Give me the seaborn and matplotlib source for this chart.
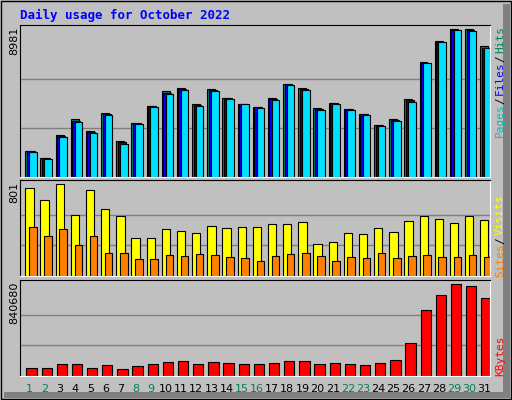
import numpy as np
import matplotlib
matplotlib.use("Agg")
import matplotlib.pyplot as plt
import seaborn as sns
from matplotlib.patches import Rectangle
from matplotlib.lines import Line2D

days = list(range(1, 32))
hits = [1605, 1179, 2581, 3515, 2824, 3922, 2215, 3312, 4348, 5222, 5446, 4470, 5385, 4836, 4470, 4288,
        4836, 5690, 5446, 4227, 4531, 4166, 3861, 3190, 3515, 4775, 6990, 8250, 8981, 8981, 7945]
files = [1570, 1140, 2510, 3430, 2750, 3850, 2100, 3270, 4310, 5140, 5380, 4400, 5320, 4800, 4470, 4250,
         4770, 5650, 5380, 4160, 4500, 4130, 3830, 3160, 3470, 4680, 6950, 8220, 8950, 8920, 7880]
pages = [1544, 1118, 2459, 3373, 2703, 3800, 2032, 3251, 4288, 5080, 5324, 4348, 5263, 4775, 4470, 4227,
         4714, 5629, 5324, 4105, 4470, 4105, 3800, 3129, 3434, 4592, 6909, 8189, 8920, 8860, 7823]
visits = [766, 662, 801, 531, 749, 583, 522, 331, 331, 409, 392, 374, 435, 418, 427, 427,
          453, 453, 470, 279, 296, 374, 366, 418, 383, 479, 522, 496, 461, 522, 488]
sites = [427, 348, 409, 270, 348, 200, 200, 148, 148, 183, 174, 192, 183, 165, 157, 131,
         174, 192, 200, 174, 131, 165, 157, 200, 157, 174, 183, 165, 165, 183, 165]
kbytes = [70311, 70311, 106995, 106995, 70311, 97824, 61140, 88653, 106995, 125337, 134508, 106995,
          125337, 116166, 106995, 106995, 116166, 134508, 134508, 106995, 116166, 106995, 97824, 116166,
          143679, 299586, 602229, 739794, 840680, 822333, 712281]
weekend = [1, 2, 8, 9, 15, 16, 22, 23, 29, 30]

sns.set_style("white")
plt.rcParams['font.family'] = ['DejaVu Sans']

W, H = 512, 400
GREY = "#c0c0c0"
GREEN = "#00805c"
fig = plt.figure(figsize=(W / 100, H / 100), dpi=100, facecolor=GREY)


def fx(x):
    return x / W


def fy(y):
    return 1 - y / H


# outer frame with 3D shading
fig.patches.append(Rectangle((fx(1), fy(399)), fx(510), 398 / H, transform=fig.transFigure,
                             fill=False, ec="black", lw=1))
fig.patches.append(Rectangle((fx(503), fy(392)), fx(7), 388 / H, transform=fig.transFigure,
                             fc="#808080", ec="none"))
fig.patches.append(Rectangle((fx(4), fy(398)), fx(506), 6 / H, transform=fig.transFigure,
                             fc="#808080", ec="none"))

fig.text(fx(20), fy(15), "Daily usage for October 2022", color="#0000ff", fontsize=9,
         family="DejaVu Sans Mono", fontweight="bold", va="center", ha="left")

panels = [(25, 177), (180, 276), (280, 376)]
axes = []
for top, bot in panels:
    ax = fig.add_axes([fx(20), fy(bot), fx(470), (bot - top) / H])
    ax.set_facecolor(GREY)
    ax.set_xlim(0.5, 31.5)
    ax.set_xticks([])
    ax.set_yticks([])
    for s in ["left", "top"]:
        ax.spines[s].set_color("black")
    for s in ["right", "bottom"]:
        ax.spines[s].set_color("white")
    axes.append(ax)

x = np.array(days)
ax1, ax2, ax3 = axes

# top panel: hits / files / pages
ax1.set_ylim(0, 8981 * 1.03)
for g in [8981 / 3, 8981 * 2 / 3]:
    ax1.axhline(g, color="#808080", lw=1, zorder=0)
ax1.bar(x - 0.15, hits, width=0.52, align="edge", color="#00805c", ec="black", lw=0.8)
ax1.bar(x - 0.05, files, width=0.52, align="edge", color="#0000ff", ec="black", lw=0.8)
ax1.bar(x + 0.1, pages, width=0.5, align="edge", color="#00e0ff", ec="black", lw=0.8)

# middle panel: visits / sites
ax2.set_ylim(0, 801 * 1.04)
for g in [267, 533]:
    ax2.axhline(g, color="#808080", lw=1, zorder=0)
ax2.bar(x - 0.15, visits, width=0.55, align="edge", color="#ffff00", ec="black", lw=0.8)
ax2.bar(x + 0.1, sites, width=0.5, align="edge", color="#ff8000", ec="black", lw=0.8)

# bottom panel: kbytes
ax3.set_ylim(0, 840680 * 1.045)
for g in [840680 / 3, 840680 * 2 / 3]:
    ax3.axhline(g, color="#808080", lw=1, zorder=0)
ax3.bar(x - 0.08, kbytes, width=0.68, align="edge", color="#ff0000", ec="black", lw=0.8)

# day labels
for d in days:
    px = 20 + (d - 0.5) * 470 / 31 + 2
    fig.text(fx(px), fy(389), str(d), ha="center", va="center", fontsize=8,
             color=GREEN if d in weekend else "black")

# left max labels
for lbl, top in [("8981", 27), ("801", 182), ("840680", 282)]:
    fig.text(fx(14), fy(top), lbl, rotation=90, ha="center", va="top", fontsize=8, color="black")


def right_label(parts, bottom):
    y = bottom
    for txt, col, h in parts:
        fig.text(fx(500), fy(y), txt, rotation=90, ha="center", va="bottom", fontsize=8,
                 color=col, family="DejaVu Sans Mono")
        y -= h


right_label([("Pages", "#00c0c0", 33), ("/", "black", 9), ("Files", "#0000ff", 33),
             ("/", "black", 9), ("Hits", "#00805c", 27)], 137)
right_label([("Sites", "#ff8000", 33), ("/", "black", 9), ("Visits", "#ffff00", 38)], 277)
right_label([("KBytes", "#ff0000", 38)], 376)

fig.savefig("out.png", dpi=100, facecolor=GREY)
